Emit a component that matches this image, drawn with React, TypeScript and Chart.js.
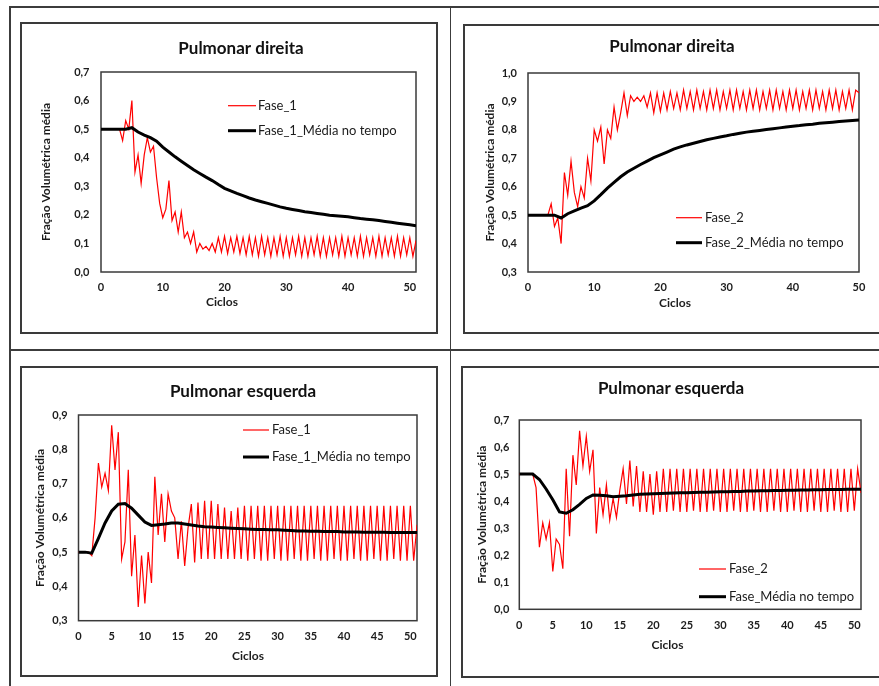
import React, { useEffect, useRef } from 'react';
import { Chart, registerables } from 'chart.js';

Chart.register(...registerables);

const FONT = "Lato, 'Open Sans', sans-serif";
const SAMPLE_STEP = 0.5; // cycles between samples of the instantaneous series
const Y_TITLE = 'Fração Volumétrica média';
const X_TITLE = 'Ciclos';

// ---- Panel 1: Pulmonar direita, Fase_1 ----
const P1_RED = [
  0.5, 0.5, 0.5, 0.5, 0.5, 0.5, 0.5, 0.46, 0.53, 0.5,
  0.6, 0.35, 0.41, 0.31, 0.41, 0.47, 0.42, 0.44, 0.33, 0.24,
  0.19, 0.22, 0.32, 0.18, 0.21, 0.14, 0.21, 0.12, 0.14, 0.1,
  0.14, 0.07, 0.1, 0.08, 0.09, 0.075, 0.1, 0.07, 0.12, 0.07,
  0.125, 0.065, 0.12, 0.07, 0.125, 0.065, 0.12, 0.06, 0.125, 0.06,
  0.12, 0.055, 0.125, 0.06, 0.12, 0.055, 0.12, 0.06, 0.125, 0.055,
  0.12, 0.055, 0.12, 0.06, 0.125, 0.055, 0.12, 0.055, 0.12, 0.06,
  0.125, 0.055, 0.12, 0.055, 0.12, 0.06, 0.12, 0.055, 0.125, 0.055,
  0.12, 0.06, 0.12, 0.055, 0.125, 0.055, 0.12, 0.06, 0.12, 0.055,
  0.125, 0.055, 0.12, 0.06, 0.12, 0.055, 0.125, 0.055, 0.12, 0.06,
  0.12, 0.055, 0.11,
];
const P1_AVG = [
  0.5, 0.5, 0.5, 0.5, 0.5, 0.505, 0.49, 0.479, 0.47, 0.458,
  0.437, 0.42, 0.403, 0.388, 0.373, 0.358, 0.345, 0.332, 0.32, 0.306,
  0.293, 0.284, 0.275, 0.267, 0.259, 0.252, 0.246, 0.24, 0.234, 0.228,
  0.223, 0.219, 0.215, 0.211, 0.208, 0.205, 0.202, 0.199, 0.197, 0.195,
  0.193, 0.19, 0.187, 0.185, 0.183, 0.18, 0.177, 0.174, 0.171, 0.168,
  0.165, 0.162,
];

// ---- Panel 2: Pulmonar direita, Fase_2 ----
const P2_RED = [
  0.5, 0.5, 0.5, 0.5, 0.5, 0.5, 0.5, 0.54, 0.46, 0.49,
  0.4, 0.65, 0.57, 0.69, 0.58, 0.53, 0.6, 0.56, 0.7, 0.62,
  0.8, 0.76, 0.81, 0.68, 0.8, 0.77, 0.88, 0.8, 0.86, 0.93,
  0.85, 0.92, 0.9, 0.915, 0.9, 0.92, 0.88, 0.93, 0.86, 0.93,
  0.865, 0.93, 0.87, 0.935, 0.875, 0.93, 0.87, 0.94, 0.875, 0.935,
  0.87, 0.94, 0.875, 0.935, 0.87, 0.94, 0.875, 0.94, 0.87, 0.935,
  0.875, 0.94, 0.87, 0.94, 0.875, 0.935, 0.87, 0.94, 0.875, 0.94,
  0.87, 0.935, 0.875, 0.94, 0.87, 0.94, 0.875, 0.935, 0.87, 0.94,
  0.875, 0.94, 0.87, 0.935, 0.875, 0.94, 0.87, 0.94, 0.875, 0.935,
  0.87, 0.94, 0.875, 0.94, 0.87, 0.935, 0.875, 0.94, 0.87, 0.94,
  0.93,
];
const P2_AVG = [
  0.5, 0.5, 0.5, 0.5, 0.5, 0.49, 0.505, 0.515, 0.525, 0.533,
  0.55, 0.572, 0.595, 0.615, 0.635, 0.652, 0.665, 0.678, 0.69, 0.702,
  0.712, 0.722, 0.732, 0.74, 0.747, 0.753, 0.759, 0.765, 0.77, 0.775,
  0.779, 0.784, 0.788, 0.792, 0.795, 0.798, 0.801, 0.804, 0.807, 0.81,
  0.813, 0.815, 0.818, 0.82, 0.823, 0.825, 0.827, 0.829, 0.831, 0.833,
  0.835,
];

// ---- Panel 3: Pulmonar esquerda, Fase_1 ----
const P3_RED = [
  0.5, 0.5, 0.5, 0.5, 0.49, 0.6, 0.76, 0.69, 0.73, 0.68,
  0.87, 0.74, 0.85, 0.48, 0.53, 0.74, 0.43, 0.55, 0.34, 0.49,
  0.35, 0.5, 0.41, 0.72, 0.55, 0.67, 0.53, 0.67, 0.62, 0.6,
  0.48, 0.59, 0.46, 0.57, 0.64, 0.47, 0.645, 0.48, 0.65, 0.48,
  0.65, 0.48, 0.64, 0.48, 0.63, 0.48, 0.62, 0.48, 0.63, 0.48,
  0.635, 0.475, 0.635, 0.48, 0.635, 0.475, 0.635, 0.475, 0.635, 0.48,
  0.635, 0.475, 0.635, 0.475, 0.635, 0.48, 0.635, 0.475, 0.635, 0.475,
  0.635, 0.48, 0.635, 0.475, 0.635, 0.475, 0.635, 0.48, 0.635, 0.475,
  0.635, 0.475, 0.635, 0.48, 0.635, 0.475, 0.635, 0.475, 0.635, 0.48,
  0.635, 0.475, 0.635, 0.475, 0.635, 0.48, 0.635, 0.475, 0.635, 0.475,
  0.635, 0.475, 0.58,
];
const P3_AVG = [
  0.5, 0.5, 0.497, 0.54, 0.585, 0.62, 0.64, 0.642, 0.628, 0.608,
  0.588, 0.578, 0.58, 0.582, 0.585, 0.585, 0.582, 0.579, 0.576, 0.574,
  0.573, 0.572, 0.571, 0.57, 0.569, 0.568, 0.567, 0.566, 0.566, 0.565,
  0.565, 0.564, 0.563, 0.562, 0.562, 0.561, 0.561, 0.56, 0.56, 0.56,
  0.559, 0.559, 0.559, 0.558, 0.558, 0.558, 0.558, 0.557, 0.557, 0.557,
  0.557, 0.557,
];

// ---- Panel 4: Pulmonar esquerda, Fase_2 ----
const P4_RED = [
  0.5, 0.5, 0.5, 0.5, 0.5, 0.45, 0.23, 0.32, 0.26, 0.32,
  0.14, 0.26, 0.24, 0.15, 0.52, 0.27, 0.57, 0.46, 0.66, 0.53,
  0.64, 0.51, 0.59, 0.28, 0.45, 0.35, 0.46, 0.33, 0.41, 0.34,
  0.44, 0.52, 0.39, 0.55, 0.38, 0.53, 0.36, 0.51, 0.36, 0.5,
  0.35, 0.51, 0.36, 0.52, 0.36, 0.52, 0.365, 0.52, 0.36, 0.52,
  0.36, 0.52, 0.365, 0.52, 0.36, 0.52, 0.36, 0.52, 0.365, 0.52,
  0.36, 0.52, 0.36, 0.52, 0.365, 0.52, 0.36, 0.52, 0.36, 0.52,
  0.365, 0.52, 0.36, 0.52, 0.36, 0.52, 0.365, 0.52, 0.36, 0.52,
  0.36, 0.52, 0.365, 0.52, 0.36, 0.52, 0.36, 0.52, 0.365, 0.52,
  0.36, 0.52, 0.36, 0.52, 0.365, 0.52, 0.36, 0.52, 0.36, 0.52,
  0.365, 0.52, 0.43,
];
const P4_AVG = [
  0.5, 0.5, 0.5, 0.48, 0.445, 0.405, 0.36, 0.355, 0.368, 0.388,
  0.41, 0.423, 0.422, 0.42, 0.416, 0.418, 0.42, 0.423, 0.425, 0.426,
  0.427, 0.428, 0.429, 0.43, 0.431, 0.431, 0.432, 0.433, 0.433, 0.434,
  0.435, 0.435, 0.436, 0.436, 0.437, 0.437, 0.438, 0.438, 0.439, 0.439,
  0.44, 0.44, 0.441, 0.441, 0.442, 0.442, 0.443, 0.443, 0.443, 0.444,
  0.444, 0.444,
];

type Spec = {
  title: string;
  labels: string[];
  red: number[];
  avg: number[];
  yMin: number;
  yMax: number;
  xMax: number;
  xStep: number;
  box: { l: number; t: number; r: number; b: number };
  plot: { l: number; t: number; r: number; b: number };
  titlePos: { x: number; y: number };
  yTitleX: number;
  yLabelRight: number;
  xLabelY: number;
  xTitlePos: { x: number; y: number };
  legend: { x1: number; x2: number; ys: number[]; tx: number };
};

const PANELS: Spec[] = [
  {
    title: 'Pulmonar direita', labels: ['Fase_1', 'Fase_1_Média no tempo'],
    red: P1_RED, avg: P1_AVG, yMin: 0, yMax: 0.7, xMax: 51, xStep: 10,
    box: { l: 21, t: 23, r: 437, b: 333 },
    plot: { l: 101, t: 72, r: 416, b: 272 },
    titlePos: { x: 241, y: 49 }, yTitleX: 46, yLabelRight: 89.5, xLabelY: 287,
    xTitlePos: { x: 222, y: 302 },
    legend: { x1: 228, x2: 256, ys: [105.7, 130.7], tx: 258 },
  },
  {
    title: 'Pulmonar direita', labels: ['Fase_2', 'Fase_2_Média no tempo'],
    red: P2_RED, avg: P2_AVG, yMin: 0.3, yMax: 1.0, xMax: 50, xStep: 10,
    box: { l: 464, t: 25, r: 899, b: 333 },
    plot: { l: 528, t: 73, r: 859, b: 272 },
    titlePos: { x: 672, y: 46.5 }, yTitleX: 490, yLabelRight: 517, xLabelY: 287,
    xTitlePos: { x: 675, y: 303 },
    legend: { x1: 676, x2: 702, ys: [217.7, 242.7], tx: 705 },
  },
  {
    title: 'Pulmonar esquerda', labels: ['Fase_1', 'Fase_1_Média no tempo'],
    red: P3_RED, avg: P3_AVG, yMin: 0.3, yMax: 0.9, xMax: 51, xStep: 5,
    box: { l: 21, t: 367, r: 437, b: 676 },
    plot: { l: 78.5, t: 415, r: 417, b: 620.7 },
    titlePos: { x: 243, y: 392 }, yTitleX: 40, yLabelRight: 67.7, xLabelY: 636,
    xTitlePos: { x: 248, y: 656 },
    legend: { x1: 243, x2: 269, ys: [430, 457], tx: 272 },
  },
  {
    title: 'Pulmonar esquerda', labels: ['Fase_2', 'Fase_Média no tempo'],
    red: P4_RED, avg: P4_AVG, yMin: 0, yMax: 0.7, xMax: 51, xStep: 5,
    box: { l: 462, t: 367, r: 899, b: 677 },
    plot: { l: 519.3, t: 420, r: 861, b: 609.3 },
    titlePos: { x: 671, y: 389 }, yTitleX: 482.3, yLabelRight: 509.3, xLabelY: 625.3,
    xTitlePos: { x: 667.5, y: 645.3 },
    legend: { x1: 699, x2: 726, ys: [569, 596.7], tx: 729 },
  },
];

const TEXT = '#1c1c1c';
const TITLE_SIZE = 17;
const AXIS_TITLE_SIZE = 12;
const TICK_SIZE = 11;
const LEGEND_SIZE = 13;

const decorPlugin = {
  id: 'panelDecor',
  beforeDatasetsDraw(chart: any) {
    const { ctx, chartArea: a } = chart;
    ctx.save();
    ctx.strokeStyle = '#3a3a3a';
    ctx.lineWidth = 1.5;
    ctx.strokeRect(a.left, a.top, a.right - a.left, a.bottom - a.top);
    ctx.restore();
  },
  afterDraw(chart: any, _args: any, opts: any) {
    const { ctx } = chart;
    ctx.save();
    [0, 1].forEach((di, k) => {
      const ds = chart.data.datasets[di];
      const y = opts.legend.ys[k];
      ctx.strokeStyle = ds.borderColor;
      ctx.lineWidth = ds.borderWidth;
      ctx.beginPath();
      ctx.moveTo(opts.legend.x1, y);
      ctx.lineTo(opts.legend.x2, y);
      ctx.stroke();
      ctx.fillStyle = TEXT;
      ctx.font = `${LEGEND_SIZE}px ${FONT}`;
      ctx.textAlign = 'left';
      ctx.textBaseline = 'middle';
      ctx.fillText(ds.label, opts.legend.tx, y);
    });
    ctx.fillStyle = TEXT;
    ctx.font = `bold ${AXIS_TITLE_SIZE}px ${FONT}`;
    ctx.textAlign = 'center';
    ctx.textBaseline = 'middle';
    ctx.fillText(opts.xTitle, opts.xTitleX, opts.xTitleY);
    ctx.restore();
  },
};

const fmt = (v: number | string) => Number(v).toFixed(1).replace('.', ',');

function PanelChart({ spec }: { spec: Spec }) {
  const ref = useRef<HTMLCanvasElement>(null);
  const cl = spec.box.l - 1;
  const ct = spec.box.t - 1;
  const W = Math.round(spec.box.r + 1 - cl);
  const H = Math.round(spec.box.b + 1 - ct);

  useEffect(() => {
    const plotL = spec.plot.l - cl;
    const plotR = spec.plot.r - cl;
    const plotT = spec.plot.t - ct;
    const plotB = spec.plot.b - ct;
    const titleRel = spec.titlePos.x - cl;
    const labelLeftRel = spec.yLabelRight - cl - 20;
    // layout span must keep tick labels inside the y scale (they are clipped to it)
    const padL = Math.min(2 * titleRel - plotR, labelLeftRel);
    const spanRight = 2 * titleRel - padL; // so that the title is centred where it is in the reference
    const spacer = Math.max(0, spanRight - plotR);
    const padR = W - plotR - spacer;
    const yW = plotL - padL;
    const xH = H - plotB;
    const tPadTop = spec.titlePos.y - ct - TITLE_SIZE * 0.6;
    const tPadBot = plotT - tPadTop - TITLE_SIZE * 1.2;
    const yTitlePad = spec.yTitleX - cl - padL - AXIS_TITLE_SIZE * 0.6;
    const yTickPad = plotL - (spec.yLabelRight - cl);
    const xTickPad = spec.xLabelY - ct - plotB - TICK_SIZE * 0.6;
    const tickFont = { family: FONT, size: TICK_SIZE, weight: 'bold' as const };

    const chart = new Chart(ref.current as HTMLCanvasElement, {
      type: 'line',
      data: {
        datasets: [
          {
            label: spec.labels[0],
            data: spec.red.map((y, i) => ({ x: i * SAMPLE_STEP, y })),
            borderColor: '#ff0000',
            borderWidth: 1.2,
            pointRadius: 0,
            tension: 0,
            order: 1,
          },
          {
            label: spec.labels[1],
            data: spec.avg.map((y, i) => ({ x: i, y })),
            borderColor: '#000000',
            borderWidth: 3,
            pointRadius: 0,
            tension: 0,
            order: 0,
          },
        ],
      },
      options: {
        responsive: false,
        animation: false,
        devicePixelRatio: 1,
        layout: { padding: { left: padL, right: padR, top: 0, bottom: 0 } },
        plugins: {
          legend: { display: false },
          tooltip: { enabled: false },
          title: {
            display: true,
            text: spec.title,
            color: '#111',
            font: { family: FONT, size: TITLE_SIZE, weight: 'bold' },
            padding: { top: tPadTop, bottom: tPadBot },
          },
          panelDecor: {
            legend: {
              x1: spec.legend.x1 - cl,
              x2: spec.legend.x2 - cl,
              ys: spec.legend.ys.map((y) => y - ct),
              tx: spec.legend.tx - cl,
            },
            xTitle: X_TITLE,
            xTitleX: spec.xTitlePos.x - cl,
            xTitleY: spec.xTitlePos.y - ct,
          },
        } as any,
        scales: {
          x: {
            type: 'linear',
            min: 0,
            max: spec.xMax,
            grid: { display: false, drawTicks: false },
            border: { display: false },
            ticks: {
              stepSize: spec.xStep,
              includeBounds: false,
              autoSkip: false,
              maxRotation: 0,
              padding: xTickPad,
              color: TEXT,
              font: tickFont,
            },
            afterFit: (s: any) => {
              s.height = xH;
            },
          },
          y: {
            type: 'linear',
            min: spec.yMin,
            max: spec.yMax,
            grid: { display: false, drawTicks: false },
            border: { display: false },
            ticks: {
              stepSize: 0.1,
              padding: yTickPad,
              color: TEXT,
              font: tickFont,
              callback: (v: any) => fmt(v),
            },
            title: {
              display: true,
              text: Y_TITLE,
              color: TEXT,
              font: { family: FONT, size: AXIS_TITLE_SIZE, weight: 'bold' },
              padding: { top: yTitlePad, bottom: 0 },
            },
            afterFit: (s: any) => {
              s.width = yW;
            },
          },
          spacer: {
            type: 'linear',
            position: 'right',
            display: spacer > 0,
            grid: { display: false, drawTicks: false },
            border: { display: false },
            ticks: { display: false },
            afterFit: (s: any) => {
              s.width = spacer;
            },
          },
        },
      } as any,
      plugins: [decorPlugin as any],
    });
    return () => chart.destroy();
  }, []);

  return (
    <>
      <div
        style={{
          position: 'absolute',
          left: cl,
          top: ct,
          width: W,
          height: H,
          boxSizing: 'border-box',
          border: '2px solid #3a3a3a',
        }}
      />
      <canvas
        ref={ref}
        width={W}
        height={H}
        style={{ position: 'absolute', left: cl, top: ct, width: W, height: H }}
      />
    </>
  );
}

const line = (left: number, top: number, width: number, height: number) => (
  <div style={{ position: 'absolute', left, top, width, height, background: '#3c3c3c' }} />
);

export default function App() {
  return (
    <div
      style={{
        position: 'absolute',
        left: 0,
        top: 0,
        width: 879,
        height: 686,
        overflow: 'hidden',
        background: '#ffffff',
      }}
    >
      {line(9, 6, 870, 1.5)}
      {line(9, 349, 870, 1.5)}
      {line(9, 6, 1.5, 680)}
      {line(449.5, 6, 1.5, 680)}
      {PANELS.map((p, i) => (
        <PanelChart key={i} spec={p} />
      ))}
    </div>
  );
}
